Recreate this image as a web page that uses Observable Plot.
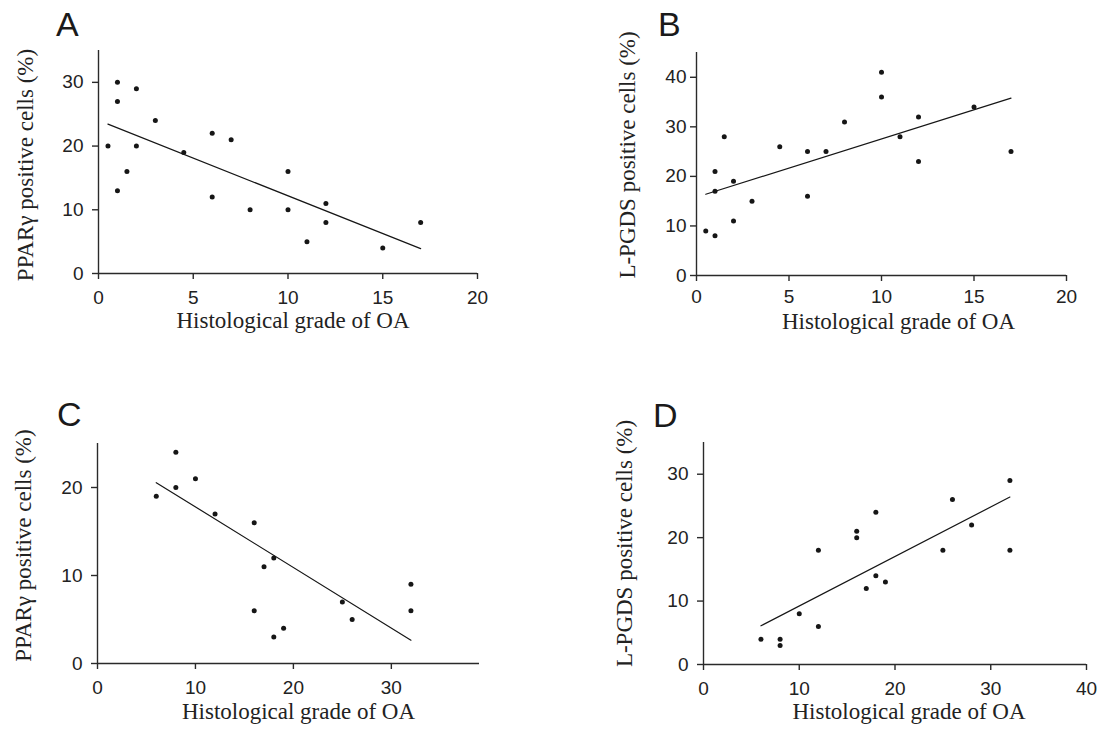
<!DOCTYPE html>
<html><head><meta charset="utf-8">
<script src="https://cdn.jsdelivr.net/npm/d3@7"></script>
<script src="https://cdn.jsdelivr.net/npm/@observablehq/plot@0.6"></script>
<style>
body{margin:0;background:#fff}
#wrap{position:relative;width:1108px;height:734px;background:#fff;overflow:hidden}
.panel{position:absolute}
.letter{position:absolute;font-family:"Liberation Sans",Arial,sans-serif;font-size:34px;line-height:34px;color:#1a1a1a}
</style></head><body><div id="wrap"></div>
<script>
// ---- Panel A: PPARγ vs histological grade (cartilage)
const aGrade = [0.5, 1, 1, 1, 1.5, 2, 2, 3, 4.5, 6, 6, 7, 8, 10, 10, 11, 12, 12, 15, 17];
const aValue = [20, 30, 27, 13, 16, 29, 20, 24, 19, 22, 12, 21, 10, 16, 10, 5, 11, 8, 4, 8];
const aFitX = [0.5, 17];
const aFitY = [23.45, 3.9];
// ---- Panel B: L-PGDS vs histological grade (cartilage)
const bGrade = [0.5, 1, 1, 1, 1.5, 2, 2, 3, 4.5, 6, 6, 7, 8, 10, 10, 11, 12, 12, 15, 17];
const bValue = [9, 21, 17, 8, 28, 19, 11, 15, 26, 25, 16, 25, 31, 41, 36, 28, 32, 23, 34, 25];
const bFitX = [0.5, 17];
const bFitY = [16.4, 35.8];
// ---- Panel C: PPARγ vs histological grade
const cGrade = [6, 8, 8, 10, 12, 16, 16, 17, 18, 18, 19, 25, 26, 32, 32];
const cValue = [19, 24, 20, 21, 17, 16, 6, 11, 12, 3, 4, 7, 5, 9, 6];
const cFitX = [6, 32];
const cFitY = [20.55, 2.65];
// ---- Panel D: L-PGDS vs histological grade
const dGrade = [6, 8, 8, 10, 12, 12, 16, 16, 17, 18, 18, 19, 25, 26, 28, 32, 32];
const dValue = [4, 4, 3, 8, 18, 6, 21, 20, 12, 24, 14, 13, 18, 26, 22, 29, 18];
const dFitX = [6, 32];
const dFitY = [6.1, 26.4];

const xTitle = "Histological grade of OA";
const yTitlePPAR = "PPARγ positive cells (%)";
const yTitlePGDS = "L-PGDS positive cells (%)";

const ink = "#161616";
const axisInk = "#2a2a2a";

function panel(cfg) {
  const pts = cfg.gx.map((g, i) => ({g, v: cfg.vy[i]}));
  const fit = cfg.fx.map((g, i) => ({g, v: cfg.fy[i]}));
  return Plot.plot({
    width: 554, height: 367,
    marginLeft: cfg.m[0], marginTop: cfg.m[1], marginRight: cfg.m[2], marginBottom: cfg.m[3],
    x: {domain: cfg.xd},
    y: {domain: cfg.yd},
    style: {fontFamily: "'Liberation Sans', Arial, sans-serif", fontSize: "19px", color: "#222", background: "transparent", overflow: "visible"},
    marks: [
      Plot.ruleY([0], {stroke: axisInk, strokeWidth: 1.4}),
      Plot.ruleX([0], {stroke: axisInk, strokeWidth: 1.4}),
      Plot.axisX(cfg.xt, {tickSize: 6, tickPadding: cfg.xp, label: null, stroke: axisInk, strokeWidth: 1.4, fill: "#222", fontSize: 19}),
      Plot.axisY(cfg.yt, {tickSize: 6, tickPadding: cfg.yp, label: null, stroke: axisInk, strokeWidth: 1.4, fill: "#222", fontSize: 19}),
      Plot.line(fit, {x: "g", y: "v", stroke: ink, strokeWidth: 1.2}),
      Plot.dot(pts, {x: "g", y: "v", r: 2.5, fill: ink, stroke: "none"}),
      Plot.text([xTitle], {frameAnchor: "bottom", text: d => d, dx: cfg.xdx, dy: cfg.xdy, lineAnchor: "middle", textAnchor: "middle",
        fontSize: 23, fontFamily: "'Liberation Serif', 'Times New Roman', serif", fill: "#222"}),
      Plot.text([cfg.yTitle], {frameAnchor: "left", text: d => d, rotate: -90, dx: cfg.ydx, dy: cfg.ydy, lineAnchor: "middle", textAnchor: "middle",
        fontSize: 23, fontFamily: "'Liberation Serif', 'Times New Roman', serif", fill: "#222"})
    ]
  });
}

const panels = [
  {left: 0, top: 0, letter: "A", lx: 56, ly: 7,
   gx: aGrade, vy: aValue, fx: aFitX, fy: aFitY, m: [98, 50, 77, 94], xd: [0, 20], yd: [0, 35],
   xt: [0, 5, 10, 15, 20], yt: [0, 10, 20, 30], xp: 11, yp: 9, yTitle: yTitlePPAR,
   xdx: 5, xdy: 47, ydx: -73, ydy: 3},
  {left: 554, top: 0, letter: "B", lx: 658, ly: 7,
   gx: bGrade, vy: bValue, fx: bFitX, fy: bFitY, m: [142, 52, 42, 92], xd: [0, 20], yd: [0, 45],
   xt: [0, 5, 10, 15, 20], yt: [0, 10, 20, 30, 40], xp: 8, yp: 4, yTitle: yTitlePGDS,
   xdx: 17, xdy: 46, ydx: -69, ydy: -9},
  {left: 0, top: 367, letter: "C", lx: 57, ly: 397,
   gx: cGrade, vy: cValue, fx: cFitX, fy: cFitY, m: [97, 76, 75, 71], xd: [0, 39], yd: [0, 25],
   xt: [0, 10, 20, 30], yt: [0, 10, 20], xp: 11, yp: 9, yTitle: yTitlePPAR,
   xdx: 10, xdy: 48, ydx: -74, ydy: -8},
  {left: 554, top: 367, letter: "D", lx: 653, ly: 398,
   gx: dGrade, vy: dValue, fx: dFitX, fy: dFitY, m: [149, 75, 22, 70], xd: [0, 40], yd: [0, 35],
   xt: [0, 10, 20, 30, 40], yt: [0, 10, 20, 30], xp: 11, yp: 9, yTitle: yTitlePGDS,
   xdx: 14, xdy: 47, ydx: -79, ydy: -10}
];

const wrap = document.getElementById("wrap");
for (const p of panels) {
  const el = panel(p);
  el.classList.add("panel");
  el.style.left = p.left + "px";
  el.style.top = p.top + "px";
  el.style.position = "absolute";
  wrap.appendChild(el);
  const L = document.createElement("div");
  L.className = "letter";
  L.textContent = p.letter;
  L.style.left = p.lx + "px";
  L.style.top = p.ly + "px";
  wrap.appendChild(L);
}
</script>
</body></html>
